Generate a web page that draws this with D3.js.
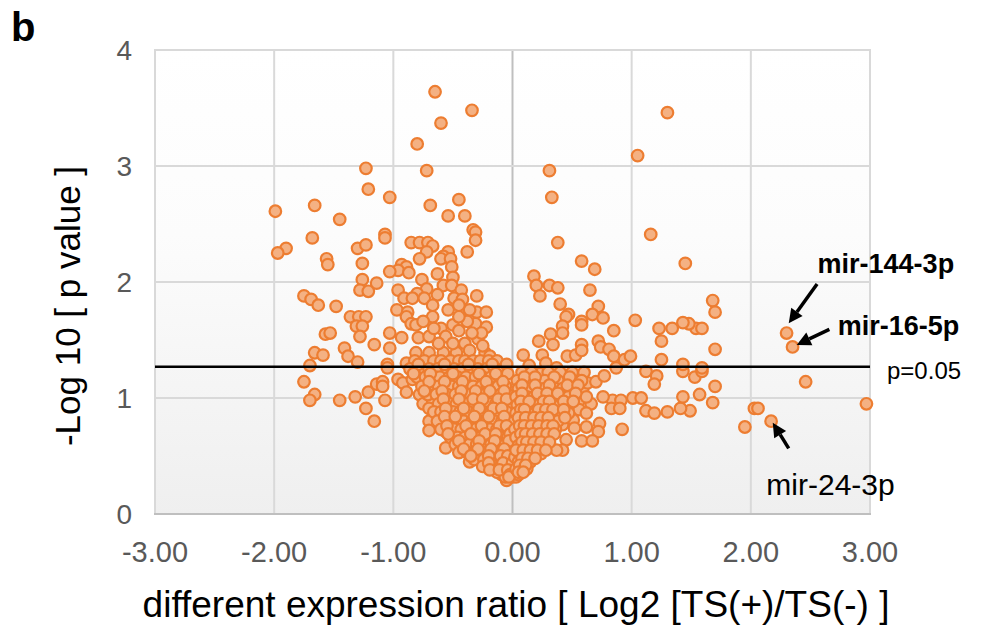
<!DOCTYPE html>
<html><head><meta charset="utf-8">
<script src="https://cdn.jsdelivr.net/npm/d3@7"></script>
<style>
html,body{margin:0;padding:0;background:#fff;}
svg{display:block;font-family:"Liberation Sans",Arial,sans-serif;}
</style></head>
<body>
<svg id="chart" width="999" height="629"></svg>
<script>
// ---- data (log2 ratio, -log10 p) ----
const xTicks = [-3, -2, -1, 0, 1, 2, 3];
const yTicks = [0, 1, 2, 3, 4];
const xTickLabels = ["-3.00", "-2.00", "-1.00", "0.00", "1.00", "2.00", "3.00"];
const pThreshold = 1.27;
const sparsePoints = [
 [-0.65,3.64],[-0.34,3.48],[-0.60,3.37],[-0.80,3.19],[-1.23,2.98],[-0.72,2.96],[-1.21,2.80],[-1.03,2.73],[-0.69,2.66],[-0.45,2.71],
 [1.30,3.46],[1.05,3.09],[0.31,2.96],[0.33,2.73],[-1.99,2.61],[-1.66,2.66],
 [-1.68,2.38],[-1.90,2.29],[-1.97,2.25],[-1.56,2.20],[-1.55,2.15],[-1.75,1.88],[-1.69,1.85],[-1.63,1.80],[-1.57,1.55],[-1.66,1.39],
 [-1.59,1.37],[-1.70,1.28],[-1.75,1.14],[-1.66,1.03],[-1.70,0.98],
 [1.53,1.18],[1.59,1.23],[1.70,1.10],[1.57,1.03],[1.68,0.96],[1.49,0.89],[2.46,1.14],[2.03,0.91],[2.06,0.91],[1.95,0.75],[2.17,0.80],[2.97,0.95],
 [1.45,2.16],[1.68,1.84],[1.70,1.74],[1.54,1.60],[1.59,1.60],[1.48,1.64],[1.70,1.42],[1.59,1.26],[2.30,1.56],[2.35,1.44]
];
const leftUpperPoints = [
 [-1.45,2.54],[-0.54,2.57],[-0.40,2.57],[-1.07,2.41],[-1.07,2.38],[-0.33,2.45],[-0.31,2.43],[-0.31,2.36],[-1.30,2.29],[-1.23,2.32],
 [-0.85,2.34],[-0.78,2.34],[-0.71,2.34],[-0.67,2.31],[-0.72,2.26],[-0.38,2.26],[-0.54,2.26],[-0.58,2.22],[-0.60,2.20],[-0.52,2.20],
 [-0.78,2.20],[-1.26,2.16],[-0.93,2.15],[-0.89,2.13],[-0.96,2.10],[-1.03,2.09],[-0.87,2.08],[-0.51,2.13],[-0.63,2.07],[-0.50,2.04],
 [-1.26,2.02],[-1.14,1.99],[-0.76,2.02],[-1.28,1.93],[-1.21,1.92],[-0.96,1.93],[-0.58,1.97],[-0.51,1.97],[-0.72,1.94],[-0.80,1.90],
 [-0.43,1.93],[-0.91,1.86],[-0.84,1.86],[-0.74,1.86],[-0.63,1.89],[-0.49,1.86],[-0.42,1.85],[-0.30,1.88],[-1.48,1.79],[-0.67,1.80],
 [-0.97,1.76],[-0.88,1.74],[-1.36,1.70],[-1.29,1.70],[-1.23,1.70],[-0.30,1.74],[-0.22,1.74],[-0.54,1.76],[-0.42,1.72],[-0.36,1.76],
 [-0.89,1.70],[-0.67,1.70],[-1.31,1.62],[-1.26,1.62],[-0.85,1.64],[-0.81,1.63],[-0.60,1.60],[-0.50,1.63],[-0.31,1.64],[-0.22,1.61],
 [-1.53,1.56],[-1.28,1.53],[-1.03,1.56],[-0.93,1.52],[-0.79,1.52],[-0.70,1.53],[-0.56,1.53],[-0.40,1.47],[-0.29,1.51],[-1.16,1.46],
 [-1.03,1.43],[-1.41,1.43],[-1.38,1.36],[-1.30,1.31],[-0.81,1.39],[-0.70,1.39],[-0.58,1.39],[-0.47,1.39],[-0.36,1.41],[-0.23,1.39],
 [-0.19,1.36],[-1.05,1.29],[-0.89,1.30],
 [-0.45,1.80],[-0.38,1.66],[-0.26,1.56],[-0.34,1.56],[-0.45,1.58],[-0.62,1.47],[-0.50,1.47],[-0.25,1.45],[-0.66,1.60],[-0.75,1.66],[-0.45,1.70]
];
const leftLowerPoints = [
 [-1.45,0.98],[-1.32,1.01],[-1.21,1.05],[-1.14,1.12],[-1.09,1.14],[-1.09,1.10],[-1.23,0.91],[-1.07,0.98],[-1.16,0.80],[-1.05,1.26],
 [-0.96,1.16],[-0.92,1.13],[-0.89,1.05],[-0.84,1.16],[-0.78,1.03],[-0.75,0.95],[-0.70,0.80],[-0.70,0.72],[-0.58,1.10],[-0.67,0.98],
 [-0.70,0.91],[-0.56,0.87],[-0.56,0.71],[-0.56,0.57],[-0.42,0.98],[-0.40,0.57],[-0.36,0.45],[-0.28,0.47],[-0.20,0.41],[-0.16,1.12],
 [-0.09,0.34],[-0.05,0.29],
 [-0.82,1.32],[-0.74,1.32],[-0.66,1.32],[-0.60,1.32],[-0.52,1.32],[-0.45,1.32],[-0.40,1.32],[-0.33,1.32],[-0.27,1.32],[-0.20,1.32],[-0.13,1.32],
 [-0.86,1.25],[-0.77,1.25],[-0.70,1.25],[-0.63,1.25],[-0.55,1.25],[-0.49,1.25],[-0.42,1.25],[-0.35,1.25],[-0.29,1.25],[-0.22,1.25],[-0.15,1.25],[-0.08,1.25],
 [-0.80,1.18],[-0.73,1.18],[-0.65,1.18],[-0.61,1.18],[-0.53,1.18],[-0.46,1.18],[-0.39,1.18],[-0.31,1.18],[-0.25,1.18],[-0.18,1.18],[-0.11,1.18],
 [-0.76,1.10],[-0.68,1.10],[-0.62,1.10],[-0.51,1.10],[-0.45,1.10],[-0.38,1.10],[-0.33,1.10],[-0.26,1.10],[-0.21,1.10],[-0.12,1.10],[-0.06,1.10],
 [-0.71,1.03],[-0.64,1.03],[-0.55,1.03],[-0.48,1.03],[-0.40,1.03],[-0.35,1.03],[-0.29,1.03],[-0.23,1.03],[-0.17,1.03],[-0.10,1.03],[-0.04,1.03],
 [-0.62,0.95],[-0.53,0.95],[-0.47,0.95],[-0.38,0.95],[-0.32,0.95],[-0.27,0.95],[-0.20,0.95],[-0.14,0.95],[-0.08,0.95],[-0.02,0.95],
 [-0.66,0.88],[-0.60,0.88],[-0.50,0.88],[-0.44,0.88],[-0.37,0.88],[-0.30,0.88],[-0.24,0.88],[-0.18,0.88],[-0.12,0.88],[-0.05,0.88],
 [-0.63,0.80],[-0.52,0.80],[-0.46,0.80],[-0.41,0.80],[-0.34,0.80],[-0.28,0.80],[-0.22,0.80],[-0.15,0.80],[-0.09,0.80],[-0.03,0.80],
 [-0.60,0.73],[-0.49,0.73],[-0.43,0.73],[-0.37,0.73],[-0.31,0.73],[-0.25,0.73],[-0.19,0.73],[-0.13,0.73],[-0.07,0.73],[-0.01,0.73],
 [-0.52,0.66],[-0.46,0.66],[-0.40,0.66],[-0.33,0.66],[-0.27,0.66],[-0.21,0.66],[-0.16,0.66],[-0.10,0.66],[-0.04,0.66],
 [-0.48,0.60],[-0.42,0.60],[-0.36,0.60],[-0.30,0.60],[-0.24,0.60],[-0.18,0.60],[-0.12,0.60],[-0.06,0.60],[-0.01,0.60],
 [-0.45,0.53],[-0.38,0.53],[-0.32,0.53],[-0.26,0.53],[-0.21,0.53],[-0.15,0.53],[-0.09,0.53],[-0.04,0.53],
 [-0.32,0.47],[-0.24,0.47],[-0.17,0.47],[-0.12,0.47],[-0.07,0.47],[-0.02,0.47],
 [-0.25,0.41],[-0.15,0.41],[-0.10,0.41],[-0.06,0.41],[-0.01,0.41],
 [-0.13,0.36],[-0.07,0.36],[-0.03,0.36],[0.01,0.36],[-0.06,0.32],[0.00,0.32],[0.03,0.32]
];
const leftCoreFill = [
 [-0.79,1.29],[-0.57,1.29],[-0.37,1.29],[-0.17,1.29],[-0.05,1.29],
 [-0.83,1.21],[-0.69,1.21],[-0.50,1.21],[-0.28,1.21],[-0.14,1.21],[-0.04,1.21],
 [-0.70,1.14],[-0.57,1.14],[-0.42,1.14],[-0.22,1.14],[-0.08,1.14],
 [-0.74,1.06],[-0.59,1.06],[-0.43,1.06],[-0.31,1.06],[-0.19,1.06],[-0.07,1.06],
 [-0.58,0.99],[-0.45,0.99],[-0.33,0.99],[-0.25,0.99],[-0.12,0.99],[-0.05,0.99],
 [-0.56,0.91],[-0.41,0.91],[-0.28,0.91],[-0.16,0.91],[-0.09,0.91],
 [-0.57,0.84],[-0.48,0.84],[-0.32,0.84],[-0.20,0.84],[-0.07,0.84],
 [-0.55,0.76],[-0.39,0.76],[-0.26,0.76],[-0.11,0.76],[-0.05,0.76],
 [-0.54,0.69],[-0.35,0.69],[-0.23,0.69],[-0.14,0.69],[-0.02,0.69],
 [-0.45,0.63],[-0.28,0.63],[-0.15,0.63],[-0.03,0.63],
 [-0.41,0.56],[-0.29,0.56],[-0.18,0.56],[-0.07,0.56],
 [-0.35,0.50],[-0.20,0.50],[-0.10,0.50],[-0.04,0.50],
 [-0.20,0.44],[-0.08,0.44],[0.00,0.44],[-0.19,0.38],[-0.11,0.38],[-0.04,0.38],[-0.02,0.34],[0.05,0.34]
];
const rightPoints = [
 [0.10,1.10],[0.17,1.12],[0.23,1.21],[0.32,1.18],[0.45,1.16],[0.53,1.16],[0.59,1.08],[0.63,1.13],[0.70,1.14],[0.77,1.19],
 [0.87,1.26],[1.12,1.23],[1.21,1.19],[1.19,1.12],[1.43,1.23],[1.01,1.00],[1.08,1.00],[1.12,0.89],[1.19,0.87],[1.30,0.88],
 [1.41,0.91],[1.43,1.01],[0.84,0.98],[0.91,0.98],[0.83,0.91],[0.90,0.91],[0.92,0.73],[0.76,1.01],[0.73,0.78],[0.72,0.71],
 [0.62,0.75],[0.58,0.63],[0.67,0.63],[0.66,0.95],[0.56,0.98],[0.56,0.90],[0.51,0.81],[0.52,0.74],[0.45,0.64],[0.42,0.55],
 [0.37,0.55],[0.42,0.77],[0.31,1.05],[0.09,0.94],[0.09,0.80],[0.06,0.71],[0.09,0.59],[0.02,0.49],[-0.03,0.32],
 [0.38,2.34],[1.16,2.41],[0.58,2.18],[0.69,2.11],[0.18,2.05],[0.20,1.97],[0.31,1.97],[0.38,1.95],[0.23,1.88],[0.65,1.93],
 [0.40,1.81],[0.72,1.79],[0.47,1.72],[0.45,1.70],[0.67,1.72],[0.76,1.69],[0.58,1.66],[0.58,1.63],[0.42,1.62],[0.42,1.56],
 [1.03,1.67],[0.85,1.58],[1.23,1.60],[1.34,1.60],[1.43,1.65],[1.25,1.49],[0.22,1.49],[0.32,1.55],[0.34,1.46],[0.58,1.46],
 [0.72,1.49],[0.74,1.44],[0.81,1.42],[0.09,1.37],[0.25,1.37],[0.46,1.36],[0.53,1.37],[0.58,1.41],[0.85,1.36],[0.94,1.33],
 [0.99,1.36],[1.25,1.33],[1.43,1.29],[0.14,1.28],[0.28,1.30],[0.37,1.26],
 [0.08,1.22],[0.16,1.22],[0.30,1.22],[0.40,1.22],[0.50,1.22],[0.60,1.22],
 [0.04,1.15],[0.13,1.15],[0.21,1.15],[0.27,1.15],[0.38,1.15],[0.58,1.15],
 [0.05,1.08],[0.14,1.08],[0.22,1.08],[0.27,1.08],[0.36,1.08],[0.42,1.08],[0.50,1.08],
 [0.03,1.01],[0.12,1.01],[0.18,1.01],[0.24,1.01],[0.35,1.01],[0.41,1.01],[0.47,1.01],[0.62,1.01],
 [0.04,0.94],[0.16,0.94],[0.22,0.94],[0.28,0.94],[0.34,0.94],[0.40,0.94],[0.46,0.94],
 [0.03,0.87],[0.13,0.87],[0.19,0.87],[0.25,0.87],[0.31,0.87],[0.37,0.87],[0.47,0.87],[0.62,0.87],
 [0.15,0.80],[0.21,0.80],[0.27,0.80],[0.33,0.80],[0.38,0.80],
 [0.02,0.73],[0.13,0.73],[0.19,0.73],[0.25,0.73],[0.31,0.73],[0.36,0.73],
 [0.03,0.66],[0.14,0.66],[0.20,0.66],[0.26,0.66],[0.31,0.66],
 [0.05,0.59],[0.15,0.59],[0.21,0.59],[0.27,0.59],
 [0.06,0.52],[0.12,0.52],[0.18,0.52],[0.24,0.52],
 [0.05,0.45],[0.10,0.45],[0.15,0.45],[0.03,0.39],[0.08,0.39],[0.12,0.39]
];
const rightCoreFill = [
 [0.10,1.18],[0.19,1.18],[0.35,1.18],[0.48,1.18],
 [0.08,1.11],[0.19,1.11],[0.31,1.11],[0.46,1.11],[0.55,1.11],
 [0.08,1.04],[0.21,1.04],[0.29,1.04],[0.38,1.04],[0.53,1.04],
 [0.07,0.97],[0.14,0.97],[0.26,0.97],[0.31,0.97],[0.43,0.97],[0.51,0.97],
 [0.07,0.90],[0.10,0.90],[0.22,0.90],[0.28,0.90],[0.34,0.90],[0.43,0.90],
 [0.05,0.83],[0.11,0.83],[0.18,0.83],[0.24,0.83],[0.30,0.83],[0.44,0.83],
 [0.06,0.76],[0.10,0.76],[0.16,0.76],[0.22,0.76],[0.29,0.76],[0.34,0.76],
 [0.07,0.69],[0.11,0.69],[0.17,0.69],[0.23,0.69],[0.29,0.69],[0.35,0.69],
 [0.08,0.62],[0.12,0.62],[0.18,0.62],[0.24,0.62],[0.31,0.62],
 [0.03,0.55],[0.09,0.55],[0.15,0.55],[0.21,0.55],[0.28,0.55],
 [0.08,0.48],[0.13,0.48],[0.19,0.48],[0.06,0.42],[0.11,0.42],[0.05,0.36],[0.09,0.36]
];
const labelNames = ["mir-144-3p", "mir-16-5p", "mir-24-3p"];
// annotation anchors in data units: [labelX, labelY, arrowTailX, arrowTailY, arrowTipX, arrowTipY]
const labelAnchors = [
 [2.56, 2.08, 2.556, 1.983, 2.318, 1.644],
 [2.73, 1.54, 2.659, 1.592, 2.385, 1.457],
 [2.13, 0.16, 2.318, 0.566, 2.184, 0.787]
];
const labelBold = [true, true, false];

const allPoints = [].concat(sparsePoints, leftUpperPoints, leftLowerPoints, leftCoreFill, rightPoints, rightCoreFill);

// ---- drawing ----
const svg = d3.select("#chart");
const m = {left:155, right:870, top:50, bottom:514};
const x = d3.scaleLinear().domain([-3, 3]).range([m.left, m.right]);
const y = d3.scaleLinear().domain([0, 4]).range([m.bottom, m.top]);

const defs = svg.append("defs");
const grad = defs.append("linearGradient").attr("id","bg").attr("x1",0).attr("y1",0).attr("x2",0).attr("y2",1);
grad.append("stop").attr("offset","0%").attr("stop-color","#ffffff");
grad.append("stop").attr("offset","40%").attr("stop-color","#fcfcfc");
grad.append("stop").attr("offset","100%").attr("stop-color","#efefef");

svg.append("rect").attr("x",x(-3)).attr("y",y(4)).attr("width",x(3)-x(-3)).attr("height",y(0)-y(4)).attr("fill","url(#bg)");

// gridlines
svg.append("g").selectAll("line").data(xTicks).join("line")
  .attr("x1", d=>x(d)).attr("x2", d=>x(d)).attr("y1", y(4)).attr("y2", y(0))
  .attr("stroke", d=> d===0 ? "#bfbfbf" : "#d9d9d9").attr("stroke-width", 2);
svg.append("g").selectAll("line").data(yTicks).join("line")
  .attr("x1", x(-3)-1).attr("x2", x(3)+1).attr("y1", d=>y(d)).attr("y2", d=>y(d))
  .attr("stroke", d=> d===0 ? "#bfbfbf" : "#d9d9d9").attr("stroke-width", 2);

// tick labels
svg.append("g").selectAll("text").data(yTicks).join("text")
  .attr("x", 132).attr("y", d=>y(d)).attr("dy","0.35em").attr("text-anchor","end")
  .attr("font-size", 28).attr("fill","#595959").text(d=>d);
svg.append("g").selectAll("text").data(xTicks).join("text")
  .attr("x", d=>x(d)).attr("y", 562).attr("text-anchor","middle")
  .attr("font-size", 29).attr("fill","#595959").text((d,i)=>xTickLabels[i]);

// points
svg.append("g").selectAll("circle").data(allPoints).join("circle")
  .attr("cx", d=>x(d[0])).attr("cy", d=>y(d[1])).attr("r", 5.8)
  .attr("fill", "#f4b183").attr("stroke", "#ed7d31").attr("stroke-width", 2.2);

// threshold line
svg.append("line").attr("x1", x(-3)).attr("x2", x(3)).attr("y1", y(pThreshold)).attr("y2", y(pThreshold))
  .attr("stroke","#000").attr("stroke-width",2.5);
svg.append("text").attr("x", x(3)+17).attr("y", y(pThreshold)+4).attr("dy","0.35em")
  .attr("font-size", 24).attr("fill","#000").text("p=0.05");

// arrows + labels
function arrow(x1,y1,x2,y2){
  const ang = Math.atan2(y2-y1, x2-x1);
  const hl = 14, hw = 7;
  const bx = x2 - hl*Math.cos(ang), by = y2 - hl*Math.sin(ang);
  svg.append("line").attr("x1",x1).attr("y1",y1).attr("x2",bx).attr("y2",by)
    .attr("stroke","#000").attr("stroke-width",3.5);
  const px = -Math.sin(ang), py = Math.cos(ang);
  svg.append("path").attr("d",
    `M${x2},${y2}L${bx+hw*px},${by+hw*py}L${bx-hw*px},${by-hw*py}Z`).attr("fill","#000");
}
labelAnchors.forEach((a,i)=>{
  arrow(x(a[2]), y(a[3]), x(a[4]), y(a[5]));
  svg.append("text").attr("x", x(a[0])).attr("y", y(a[1]))
    .attr("font-size", labelBold[i] ? 27 : 30).attr("font-weight", labelBold[i] ? "bold" : "normal")
    .attr("fill","#000").text(labelNames[i]);
});

// axis titles
svg.append("text").attr("x", 516).attr("y", 617).attr("text-anchor","middle")
  .attr("font-size", 37).attr("fill","#000").text("different expression ratio [ Log2 [TS(+)/TS(-) ]");
svg.append("text").attr("transform","translate(80,306) rotate(-90)").attr("text-anchor","middle")
  .attr("font-size", 35).attr("fill","#000").text("-Log 10 [ p value ]");
svg.append("text").attr("x", 11).attr("y", 41).attr("font-size", 40).attr("font-weight","bold").attr("fill","#000").text("b");
</script>
</body></html>
